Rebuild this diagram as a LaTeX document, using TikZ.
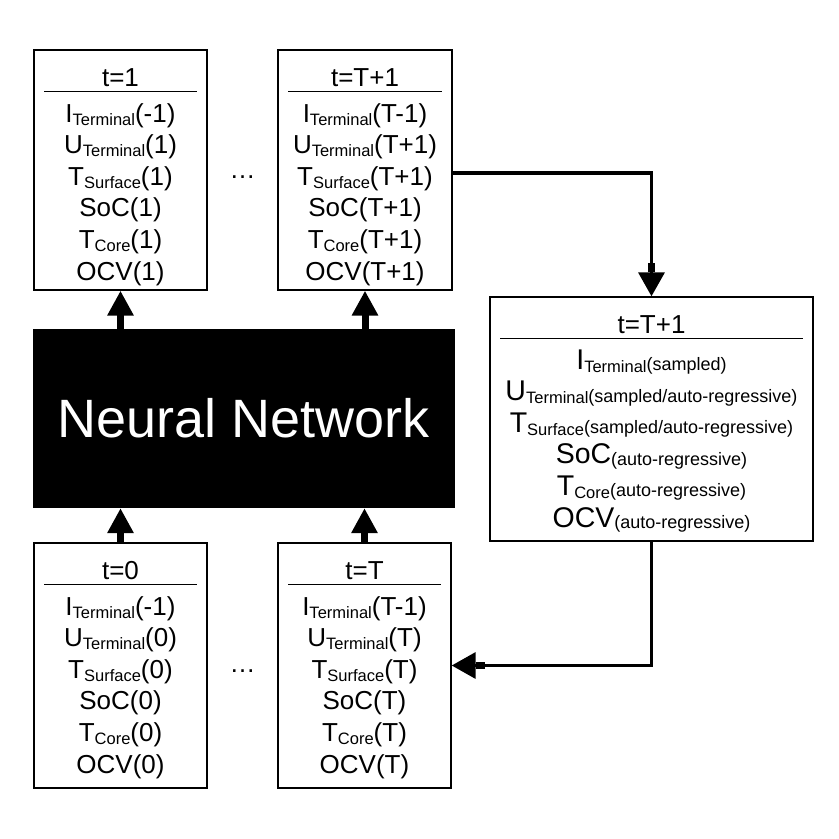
\documentclass[tikz,border=0pt]{standalone}
\usepackage{fontspec}
\setmainfont{Liberation Sans}
\usetikzlibrary{arrows.meta}
\newcommand{\subT}[1]{\raisebox{-3pt}{\fontsize{16.5}{16.5}\selectfont #1}}
\newcommand{\parT}[1]{\raisebox{-1.5pt}{\fontsize{18}{18}\selectfont #1}}
\newcommand{\mainfs}{\fontsize{26}{30}\selectfont}
\newcommand{\bigfs}{\fontsize{28.5}{32}\selectfont}
% #1 box name, #2 x centre, #3 y top, #4 title, #5 row font, #6 rows
\newcommand{\fillbox}[6]{%
  \node[anchor=base, font=\mainfs, inner sep=0pt] (#1title) at (#2, #3+36) {#4};
  \draw[sepline] ([xshift=11pt,yshift=-42pt]#1.north west) -- ([xshift=-11pt,yshift=-42pt]#1.north east);
  \foreach \r [count=\i] in {#6} {%
    \node[anchor=base, font=#5, inner sep=0pt] (#1r\i) at (#2, #3+62.5+31.6*\i-31.6+9.5) {\r};
  }%
}
\begin{document}
\begin{tikzpicture}[x=1pt,y=-1pt,
  databox/.style={draw, line width=1.4pt, inner sep=0pt},
  sepline/.style={line width=1.5pt},
  nnarrow/.style={line width=7pt, -{Triangle[length=25pt,width=25pt]}},
  conn/.style={line width=3.6pt, line join=miter,
    -{Rectangle[length=9pt,width=7.5pt,sep=0pt]Triangle[length=24pt,width=26pt,sep=0pt]}}]
\useasboundingbox (0,0) rectangle (839,839);
\fill[white] (0,0) rectangle (839,839);

% boxes
\node[databox, minimum width=173pt, minimum height=240pt] (t1)  at (120.5,170) {};
\node[databox, minimum width=174pt, minimum height=240pt] (tT1) at (365,170) {};
\node[databox, minimum width=173pt, minimum height=245pt] (t0)  at (120.5,665.5) {};
\node[databox, minimum width=173pt, minimum height=245pt] (tT)  at (364.5,665.5) {};
\node[databox, minimum width=323pt, minimum height=244pt] (rb)  at (651.5,419) {};

% neural network
\node[fill=black, minimum width=422pt, minimum height=179pt, inner sep=0pt,
      text=white, font=\fontsize{54}{60}\selectfont] (nn) at (244,418.5) {Neural Network};

% contents
\fillbox{t1}{120.5}{50}{t=1}{\mainfs}{{I\subT{Terminal}(-1)},{U\subT{Terminal}(1)},{T\subT{Surface}(1)},{SoC(1)},{T\subT{Core}(1)},{OCV(1)}}
\fillbox{tT1}{365}{50}{t=T+1}{\mainfs}{{I\subT{Terminal}(T-1)},{U\subT{Terminal}(T+1)},{T\subT{Surface}(T+1)},{SoC(T+1)},{T\subT{Core}(T+1)},{OCV(T+1)}}
\fillbox{t0}{120.5}{543}{t=0}{\mainfs}{{I\subT{Terminal}(-1)},{U\subT{Terminal}(0)},{T\subT{Surface}(0)},{SoC(0)},{T\subT{Core}(0)},{OCV(0)}}
\fillbox{tT}{364.5}{543}{t=T}{\mainfs}{{I\subT{Terminal}(T-1)},{U\subT{Terminal}(T)},{T\subT{Surface}(T)},{SoC(T)},{T\subT{Core}(T)},{OCV(T)}}
\fillbox{rb}{651.5}{297}{t=T+1}{\bigfs}{{I\subT{Terminal}\parT{(sampled)}},{U\subT{Terminal}\parT{(sampled/auto-regressive)}},{T\subT{Surface}\parT{(sampled/auto-regressive)}},{SoC\parT{(auto-regressive)}},{T\subT{Core}\parT{(auto-regressive)}},{OCV\parT{(auto-regressive)}}}

% dots
\node[font=\mainfs, inner sep=0pt] (dots1) at (242.5,177) {…};
\node[font=\mainfs, inner sep=0pt] (dots2) at (242.5,671) {…};

% arrows to / from the network
\draw[nnarrow] (t1.south |- nn.north) -- (t1.south);
\draw[nnarrow] (tT1.south |- nn.north) -- (tT1.south);
\draw[nnarrow] (t0.north) -- (t0.north |- nn.south);
\draw[nnarrow] (tT.north) -- (tT.north |- nn.south);

% feedback connectors
\draw[conn] ([yshift=-3pt]tT1.east) -| (rb.north);
\draw[conn] (rb.south) |- (tT.east);
\end{tikzpicture}
\end{document}
